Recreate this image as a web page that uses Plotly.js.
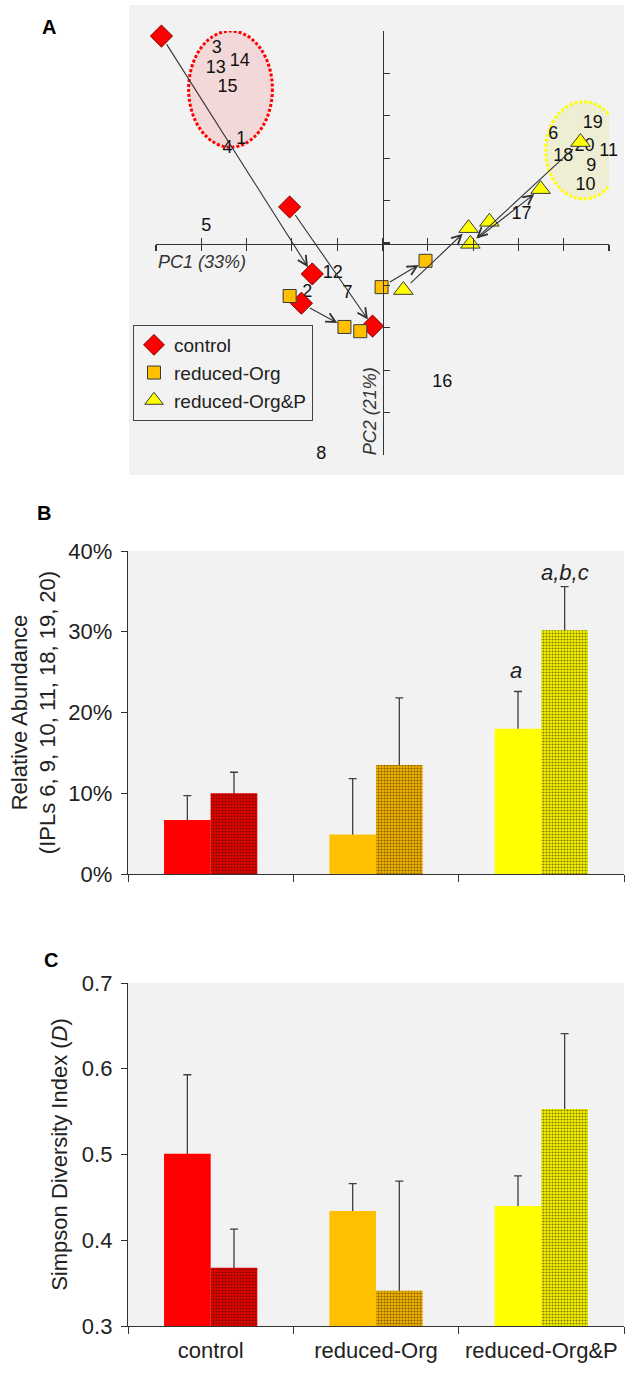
<!DOCTYPE html>
<html>
<head>
<meta charset="utf-8">
<script src="https://cdn.plot.ly/plotly-3.0.1.min.js"></script>
<style>
  html, body { margin: 0; padding: 0; background: #ffffff; }
  #chart { width: 630px; height: 1373px; }
</style>
</head>
<body>
<div id="chart"></div>
<script>
// ---------------- Panel A: PCA biplot data ----------------
const seriesNames = ['control', 'reduced-Org', 'reduced-Org&P'];
const pcControlX = [-4.88, -2.05, -1.55, -1.79, -0.22];
const pcControlY = [4.88, 0.85, -0.73, -1.42, -1.96];
const pcOrgX = [-2.05, -0.84, -0.49, -0.02, 0.95];
const pcOrgY = [-1.25, -1.98, -2.08, -1.04, -0.42];
const pcOrgPX = [0.46, 1.90, 1.94, 2.36, 3.49, 4.37];
const pcOrgPY = [-1.11, 0.35, -0.02, 0.50, 1.27, 2.38];

// IPL loading labels
const loadLabels = ['1','2','3','4','5','6','7','8','9','10','11','12','13','14','15','16','17','18','19','20'];
const loadX = [-3.12, -1.66, -3.66, -3.42, -3.89, 3.77, -0.77, -1.35, 4.61, 4.48, 4.99, -1.10, -3.68, -3.15, -3.42, 1.32, 3.07, 3.99, 4.64, 4.46];
const loadY = [2.45, -1.16, 4.58, 2.22, 0.38, 2.55, -1.20, -4.99, 1.80, 1.35, 2.15, -0.73, 4.12, 4.28, 3.66, -3.28, 0.68, 2.03, 2.83, 2.27];

// trajectories: [from series, from index, to series, to index]
const arrowLinks = [
  [0, 0, 0, 2],
  [0, 1, 0, 4],
  [0, 3, 1, 1],
  [1, 3, 1, 4],
  [2, 0, 2, 1],
  [2, 2, 2, 4],
  [2, 5, 2, 2]
];

// ---------------- Panel B & C: bar data ----------------
const categories = ['control', 'reduced-Org', 'reduced-Org&P'];
const abundSolid = [0.067, 0.049, 0.180];
const abundSolidErr = [0.030, 0.069, 0.046];
const abundHatch = [0.100, 0.135, 0.302];
const abundHatchErr = [0.026, 0.083, 0.054];
const abundSigLabels = ['a', 'a,b,c'];

const simpsonSolid = [0.501, 0.434, 0.440];
const simpsonSolidErr = [0.092, 0.032, 0.035];
const simpsonHatch = [0.368, 0.341, 0.553];
const simpsonHatchErr = [0.045, 0.128, 0.088];

// ---------------- styles ----------------
const solidColors = ['#FF0000', '#FFC000', '#FFFF00'];
const hatchBase = ['#E60000', '#F2B400', '#F4F400'];
const FONT = 'Arial, "Liberation Sans", sans-serif';
const W = 630, H = 1373;
const px = v => v / W;
const py = v => 1 - v / H;

const pcX = [pcControlX, pcOrgX, pcOrgPX];
const pcY = [pcControlY, pcOrgY, pcOrgPY];

const traces = [];
const markerStyles = [
  {symbol: 'diamond', size: 17, color: '#FF0000', line: {color: '#7A0000', width: 1}},
  {symbol: 'square', size: 13, color: '#FFC000', line: {color: '#3a3a3a', width: 1}},
  {symbol: 'triangle-up', size: 17, color: '#FFFF00', line: {color: '#3a3a3a', width: 1}}
];
traces.push({
  type: 'scatter', mode: 'text', x: loadX, y: loadY, text: loadLabels,
  textfont: {size: 18, color: '#111111', family: FONT},
  textposition: 'middle center', cliponaxis: false,
  xaxis: 'x', yaxis: 'y', showlegend: false, hoverinfo: 'skip'
});
for (let s = 0; s < 3; s++) {
  traces.push({
    type: 'scatter', mode: 'markers', name: seriesNames[s],
    x: pcX[s], y: pcY[s], marker: markerStyles[s], cliponaxis: false,
    xaxis: 'x', yaxis: 'y'
  });
}
// overlay axis giving the PC1 ticks that cross the axis line
traces.push({type: 'scatter', x: [], y: [], xaxis: 'x4', yaxis: 'y', showlegend: false, hoverinfo: 'skip'});

function errOnly(vals, errs, base, xa, ya, group) {
  // transparent bar that carries the error bar; the opaque bar drawn after it hides the stem
  return {
    type: 'bar', x: categories, y: vals, xaxis: xa, yaxis: ya, offsetgroup: group,
    marker: {color: 'rgba(0,0,0,0)', line: {width: 0}},
    error_y: {type: 'data', symmetric: false, array: errs, arrayminus: vals.map(v => v - base),
              color: '#404040', thickness: 1.3, width: 4},
    showlegend: false, hoverinfo: 'skip'
  };
}
function plainBars(vals, colors, xa, ya, group) {
  return {type: 'bar', x: categories, y: vals, xaxis: xa, yaxis: ya, offsetgroup: group,
          marker: {color: colors, line: {width: 0}}, showlegend: false, hoverinfo: 'skip'};
}
function dotTexture(vals, xa, ya, group) {
  return {type: 'bar', x: categories, y: vals, xaxis: xa, yaxis: ya, offsetgroup: group,
          marker: {color: 'rgba(0,0,0,0)', line: {width: 0},
                   pattern: {shape: '.', fillmode: 'replace', bgcolor: 'rgba(0,0,0,0)',
                             fgcolor: 'rgba(40,20,0,0.55)', fgopacity: 1, size: 3, solidity: 0.4}},
          showlegend: false, hoverinfo: 'skip'};
}
// Panel B
traces.push(errOnly(abundSolid, abundSolidErr, 0, 'x2', 'y2', 'bs'));
traces.push(errOnly(abundHatch, abundHatchErr, 0, 'x2', 'y2', 'bh'));
traces.push(plainBars(abundSolid, solidColors, 'x2', 'y2', 'bs'));
traces.push(plainBars(abundHatch, hatchBase, 'x2', 'y2', 'bh'));
traces.push(dotTexture(abundHatch, 'x2', 'y2', 'bh'));
// Panel C
traces.push(errOnly(simpsonSolid, simpsonSolidErr, 0.3, 'x3', 'y3', 'cs'));
traces.push(errOnly(simpsonHatch, simpsonHatchErr, 0.3, 'x3', 'y3', 'ch'));
traces.push(plainBars(simpsonSolid, solidColors, 'x3', 'y3', 'cs'));
traces.push(plainBars(simpsonHatch, hatchBase, 'x3', 'y3', 'ch'));
traces.push(dotTexture(simpsonHatch, 'x3', 'y3', 'ch'));

// ---------------- annotations ----------------
const annotations = [];
arrowLinks.forEach(l => {
  annotations.push({
    xref: 'x', yref: 'y', axref: 'x', ayref: 'y',
    x: pcX[l[2]][l[3]], y: pcY[l[2]][l[3]],
    ax: pcX[l[0]][l[1]], ay: pcY[l[0]][l[1]],
    text: '', showarrow: true, arrowhead: 5, arrowsize: 1.7, arrowwidth: 1.1,
    arrowcolor: '#333333', standoff: 8, startstandoff: 8
  });
});
annotations.push({xref: 'x', yref: 'y', x: -5, y: -0.45, xanchor: 'left', yanchor: 'middle',
  text: '<i>PC1 (33%)</i>', showarrow: false, font: {size: 18, color: '#333333', family: FONT}});
annotations.push({xref: 'x', yref: 'y', x: -0.27, y: -3.96, xanchor: 'center', yanchor: 'middle',
  text: '<i>PC2 (21%)</i>', textangle: -90, showarrow: false, font: {size: 18, color: '#333333', family: FONT}});
[['A', 49, 27], ['B', 44, 513], ['C', 51, 960]].forEach(p => {
  annotations.push({xref: 'paper', yref: 'paper', x: px(p[1]), y: py(p[2]),
    xanchor: 'center', yanchor: 'middle', text: '<b>' + p[0] + '</b>', showarrow: false,
    font: {size: 20, color: '#000000', family: FONT}});
});
annotations.push({xref: 'x2', yref: 'y2', x: 1.847, y: 0.252, text: '<i>' + abundSigLabels[0] + '</i>',
  showarrow: false, font: {size: 22, color: '#222222', family: FONT}});
annotations.push({xref: 'x2', yref: 'y2', x: 2.143, y: 0.373, text: '<i>' + abundSigLabels[1] + '</i>',
  showarrow: false, font: {size: 22, color: '#222222', family: FONT}});

// ---------------- shapes ----------------
const shapes = [
  {type: 'rect', xref: 'paper', yref: 'paper', x0: px(129), x1: px(624), y0: py(475), y1: py(5),
   fillcolor: '#F2F2F2', line: {width: 0}, layer: 'below'},
  {type: 'circle', xref: 'x', yref: 'y', x0: -4.28, x1: -2.43, y0: 2.26, y1: 5.0,
   fillcolor: '#F2D8D8', line: {color: '#FF0000', width: 3, dash: '3px,2px'}, layer: 'below'},
  {type: 'circle', xref: 'x', yref: 'y', x0: 3.60, x1: 5.28, y0: 1.04, y1: 3.33,
   fillcolor: '#EEEED4', line: {color: '#FFFF00', width: 3, dash: '3px,2px'}, layer: 'below'}
];

const axLine = '#333333';
const layout = {
  width: W, height: H, autosize: false,
  margin: {l: 0, r: 0, t: 0, b: 0, pad: 0},
  paper_bgcolor: '#FFFFFF', plot_bgcolor: '#F2F2F2',
  font: {family: FONT, color: '#1a1a1a'},
  showlegend: true,
  legend: {x: px(133), y: py(325), xanchor: 'left', yanchor: 'top', bgcolor: '#F2F2F2',
           bordercolor: '#444444', borderwidth: 1, font: {size: 19, color: '#222222'},
           tracegroupgap: 0, itemclick: false, itemdoubleclick: false},
  barmode: 'group', bargap: 0.436, bargroupgap: 0,
  xaxis: {domain: [px(156), px(609)], range: [-5, 5], anchor: 'free', position: py(244),
          showline: true, linecolor: axLine, linewidth: 1.2, ticks: 'outside', ticklen: 6,
          tickcolor: axLine, tickwidth: 1.2, dtick: 1, tick0: 0, showticklabels: false,
          showgrid: false, zeroline: false, fixedrange: true},
  xaxis4: {domain: [px(156), px(609)], range: [-5, 5], anchor: 'free', position: py(244),
           overlaying: 'x', showline: false, ticks: 'inside', ticklen: 6, tickcolor: axLine,
           tickwidth: 1.2, dtick: 1, tick0: 0, showticklabels: false, showgrid: false, zeroline: false},
  yaxis: {domain: [py(455), py(31)], range: [-5, 5], anchor: 'free', position: px(383),
          showline: true, linecolor: axLine, linewidth: 1.2, ticks: 'inside', ticklen: 6,
          tickcolor: axLine, tickwidth: 1.2, dtick: 1, tick0: 0, showticklabels: false,
          showgrid: false, zeroline: false, fixedrange: true},
  xaxis2: {domain: [px(128), px(624)], anchor: 'y2', type: 'category',
           showline: true, linecolor: axLine, linewidth: 1.2, ticks: 'outside', tickson: 'boundaries',
           ticklen: 7, tickcolor: axLine, showticklabels: false, showgrid: false, zeroline: false},
  yaxis2: {domain: [py(874), py(551)], anchor: 'x2', range: [0, 0.4], dtick: 0.1, tickformat: '.0%',
           showline: true, linecolor: axLine, linewidth: 1.2, ticks: 'outside', ticklen: 6,
           tickcolor: axLine, ticklabelstandoff: 4,
           tickfont: {size: 22, color: '#222222'}, showgrid: false, zeroline: false,
           title: {text: 'Relative Abundance<br>(IPLs 6, 9, 10, 11, 18, 19, 20)',
                   font: {size: 22, color: '#222222'}, standoff: 6}},
  xaxis3: {domain: [px(128), px(624)], anchor: 'y3', type: 'category',
           showline: true, linecolor: axLine, linewidth: 1.2, ticks: 'outside', tickson: 'boundaries',
           ticklen: 7, tickcolor: axLine, ticklabelstandoff: 4,
           tickfont: {size: 22, color: '#222222'}, showgrid: false, zeroline: false},
  yaxis3: {domain: [py(1326), py(983)], anchor: 'x3', range: [0.3, 0.7], dtick: 0.1, tick0: 0.3,
           tickformat: '.1f',
           showline: true, linecolor: axLine, linewidth: 1.2, ticks: 'outside', ticklen: 6,
           tickcolor: axLine, ticklabelstandoff: 4,
           tickfont: {size: 22, color: '#222222'}, showgrid: false, zeroline: false,
           title: {text: 'Simpson Diversity Index (<i>D</i>)', font: {size: 22, color: '#222222'}, standoff: 8}},
  shapes: shapes,
  annotations: annotations
};

Plotly.newPlot('chart', traces, layout, {staticPlot: true, displayModeBar: false});
</script>
</body>
</html>
